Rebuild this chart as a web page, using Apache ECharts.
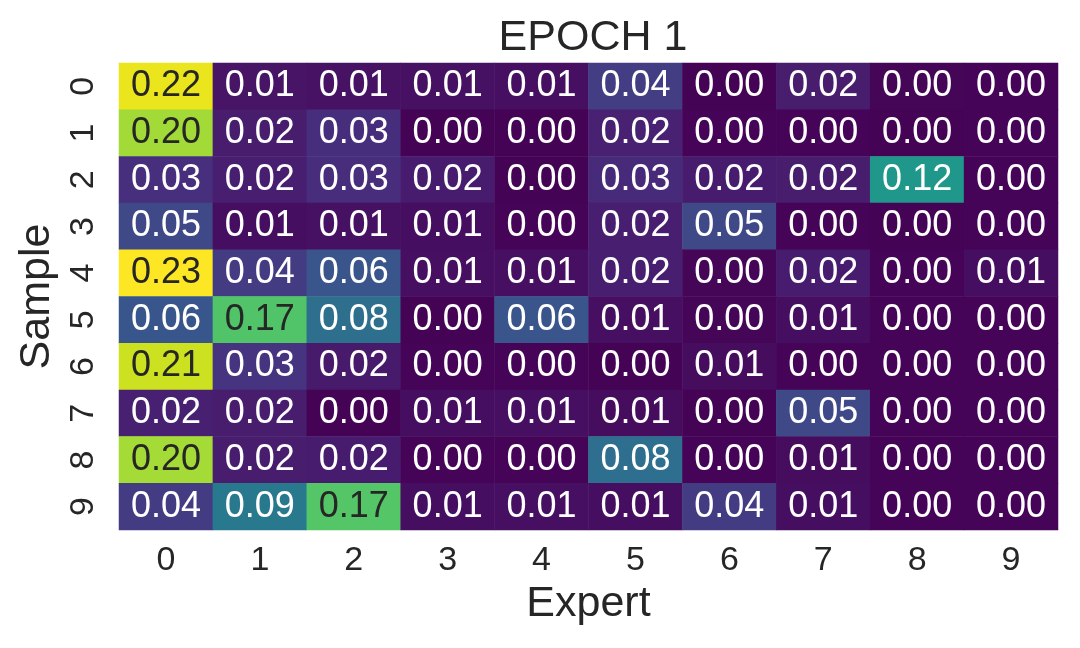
<!DOCTYPE html>
<html>
<head>
<meta charset="utf-8">
<script src="https://cdn.jsdelivr.net/npm/echarts@6/dist/echarts.min.js"></script>
<style>
html,body{margin:0;padding:0;background:#fff;}
#chart{width:1080px;height:648px;}
</style>
</head>
<body>
<div id="chart"></div>
<script>
const experts = ['0','1','2','3','4','5','6','7','8','9'];
const samples = ['0','1','2','3','4','5','6','7','8','9'];
// values (labels show 2 decimals)
const row0 = [0.222,0.012,0.011,0.010,0.009,0.041,0.001,0.018,0.003,0.002];
const row1 = [0.197,0.018,0.030,0.001,0.001,0.021,0.002,0.002,0.001,0.002];
const row2 = [0.031,0.019,0.029,0.017,0.001,0.027,0.017,0.018,0.121,0.002];
const row3 = [0.050,0.008,0.010,0.008,0.002,0.019,0.050,0.002,0.001,0.002];
const row4 = [0.229,0.040,0.060,0.009,0.009,0.019,0.003,0.017,0.002,0.008];
const row5 = [0.061,0.166,0.083,0.001,0.060,0.009,0.003,0.008,0.002,0.002];
const row6 = [0.211,0.034,0.016,0.002,0.002,0.001,0.007,0.002,0.002,0.002];
const row7 = [0.020,0.018,0.001,0.008,0.009,0.007,0.001,0.050,0.002,0.002];
const row8 = [0.198,0.018,0.017,0.002,0.002,0.082,0.002,0.007,0.002,0.002];
const row9 = [0.040,0.093,0.168,0.008,0.009,0.008,0.040,0.008,0.002,0.002];
const rows = [row0,row1,row2,row3,row4,row5,row6,row7,row8,row9];
const titleText = 'EPOCH 1';

const viridis = ['#440154','#471365','#482475','#463480','#414487','#3b528b','#355f8d','#2f6c8e','#2a788e','#25848e','#21918c','#1e9c89','#22a884','#2fb47c','#44bf70','#5ec962','#7ad151','#9bd93c','#bddf26','#dfe318','#fde725'];
const FONT = '"Liberation Sans", Arial, sans-serif';
const TXT = '#262626';

const data = [];
rows.forEach((r, yi) => {
  r.forEach((v, xi) => {
    data.push({
      value: [xi, yi, v],
      label: { color: v >= 0.15 ? TXT : '#ffffff' }
    });
  });
});

const chart = echarts.init(document.getElementById('chart'), null, {renderer: 'canvas'});
chart.setOption({
  animation: false,
  backgroundColor: '#ffffff',
  title: {
    text: titleText,
    left: 588, top: 12, textAlign: 'center',
    textStyle: { fontFamily: FONT, fontSize: 43, fontWeight: 'normal', color: TXT }
  },
  grid: { left: 119, top: 63, width: 939, height: 467, outerBoundsMode: 'none', containLabel: false },
  xAxis: {
    type: 'category', data: experts,
    name: 'Expert', nameLocation: 'middle', nameGap: 52,
    nameTextStyle: { fontFamily: FONT, fontSize: 43, color: TXT },
    axisLine: { show: false }, axisTick: { show: false }, splitLine: { show: false },
    axisLabel: { fontFamily: FONT, fontSize: 34, color: TXT, margin: 14 }
  },
  yAxis: {
    type: 'category', data: samples, inverse: true,
    name: 'Sample', nameLocation: 'middle', nameGap: 52, nameRotate: 90,
    nameTextStyle: { fontFamily: FONT, fontSize: 43, color: TXT },
    axisLine: { show: false }, axisTick: { show: false }, splitLine: { show: false },
    axisLabel: { fontFamily: FONT, fontSize: 34, color: TXT, margin: 18, rotate: 90 }
  },
  visualMap: {
    show: false, min: 0, max: 0.229, dimension: 2,
    inRange: { color: viridis }
  },
  series: [{
    type: 'heatmap',
    data: data,
    itemStyle: { borderWidth: 0 },
    label: {
      show: true, fontFamily: FONT, fontSize: 36,
      formatter: p => p.value[2].toFixed(2)
    },
    emphasis: { disabled: true }
  }]
});
</script>
</body>
</html>
